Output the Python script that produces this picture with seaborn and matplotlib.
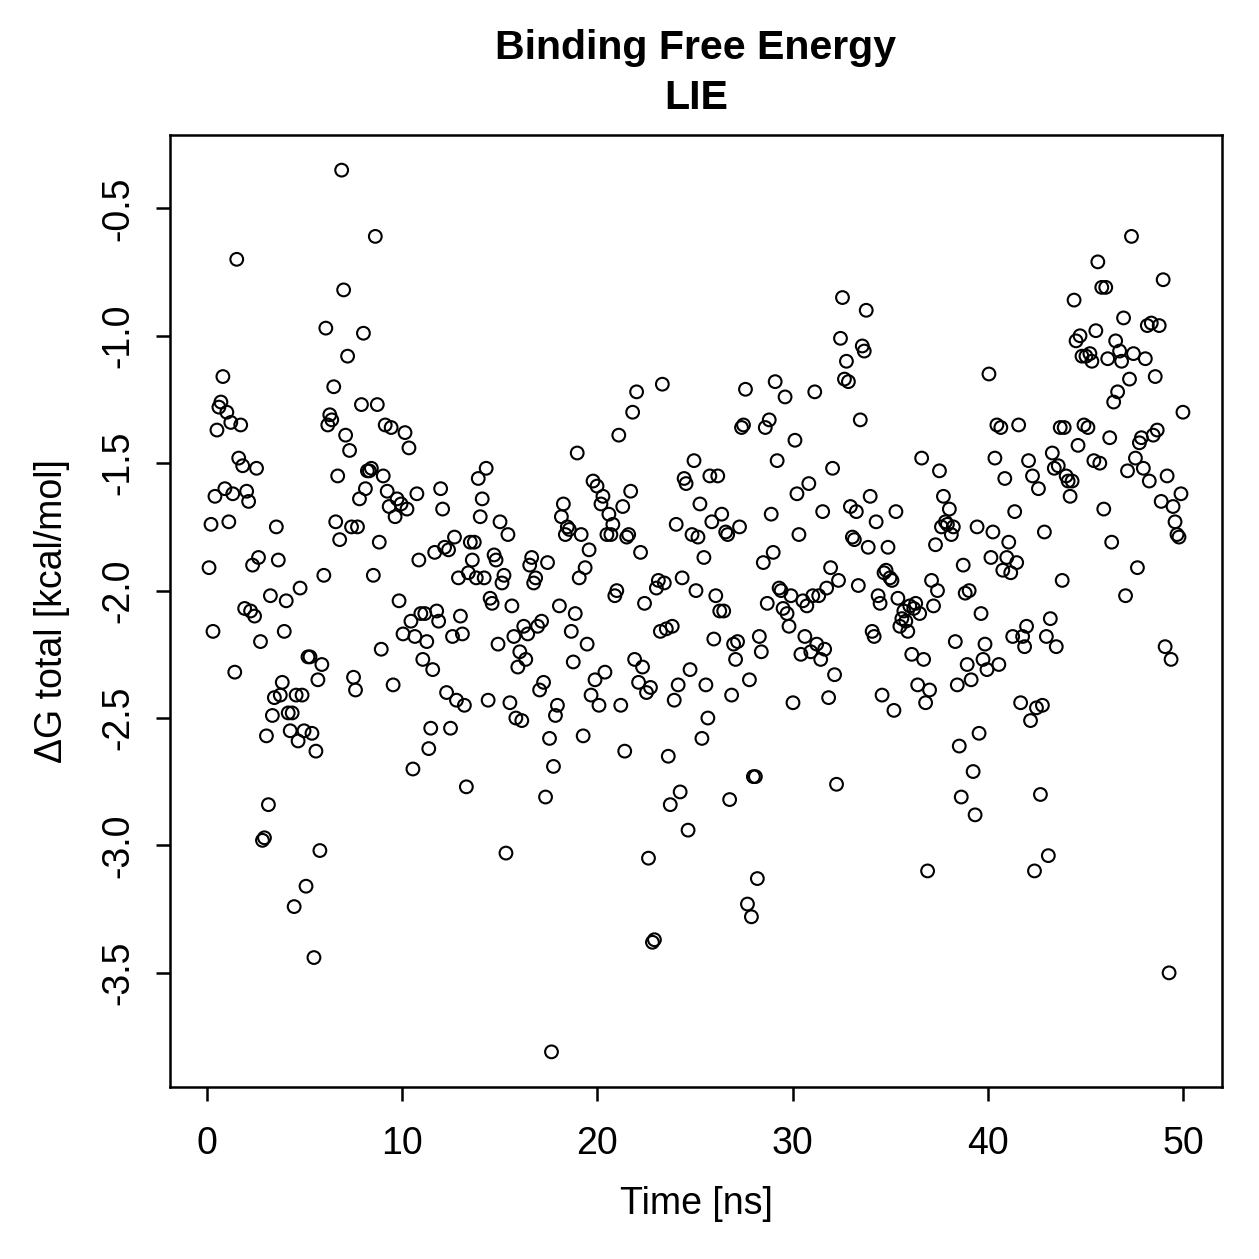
import matplotlib
matplotlib.use("Agg")
import matplotlib.pyplot as plt
import seaborn as sns
import numpy as np
import pandas as pd

# dG total per frame (frames every 0.1 ns)
dg_00_10 = [-1.91, -1.74, -2.16, -1.63, -1.37, -1.28, -1.26, -1.16, -1.60, -1.30,
            -1.73, -1.34, -1.62, -2.32, -0.70, -1.48, -1.35, -1.51, -2.07, -1.61,
            -1.65, -2.08, -1.90, -2.10, -1.52, -1.87, -2.20, -2.98, -2.97, -2.57,
            -2.84, -2.02, -2.49, -2.42, -1.75, -1.88, -2.41, -2.36, -2.16, -2.04,
            -2.48, -2.55, -2.48, -3.24, -2.41, -2.59, -1.99, -2.41, -2.55, -3.16,
            -2.26, -2.26, -2.56, -3.44, -2.63, -2.35, -3.02, -2.29, -1.94, -0.97,
            -1.35, -1.31, -1.33, -1.20, -1.73, -1.55, -1.80, -0.35, -0.82, -1.39,
            -1.08, -1.45, -1.75, -2.34, -2.39, -1.75, -1.64, -1.27, -0.99, -1.60,
            -1.53, -1.53, -1.52, -1.94, -0.61, -1.27, -1.81, -2.23, -1.55, -1.35,
            -1.61, -1.67, -1.36, -2.37, -1.71, -1.64, -2.04, -1.66, -2.17, -1.38]
dg_10_20 = [-1.68, -1.44, -2.12, -2.70, -2.18, -1.62, -1.88, -2.09, -2.27, -2.09,
            -2.20, -2.62, -2.54, -2.31, -1.85, -2.08, -2.12, -1.60, -1.68, -1.83,
            -2.40, -1.84, -2.54, -2.18, -1.79, -2.43, -1.95, -2.10, -2.17, -2.45,
            -2.77, -1.93, -1.81, -1.88, -1.81, -1.95, -1.56, -1.71, -1.64, -1.95,
            -1.52, -2.43, -2.03, -2.05, -1.86, -1.88, -2.21, -1.73, -1.97, -1.94,
            -3.03, -1.78, -2.44, -2.06, -2.18, -2.50, -2.30, -2.24, -2.51, -2.14,
            -2.27, -2.17, -1.90, -1.87, -1.97, -1.95, -2.14, -2.39, -2.12, -2.36,
            -2.81, -1.89, -2.58, -3.81, -2.69, -2.49, -2.45, -2.06, -1.71, -1.66,
            -1.78, -1.75, -1.76, -2.16, -2.28, -2.09, -1.46, -1.95, -1.78, -2.57,
            -1.91, -2.21, -1.84, -2.41, -1.57, -2.35, -1.59, -2.45, -1.66, -1.63]
dg_20_30 = [-2.32, -1.78, -1.70, -1.78, -1.74, -2.02, -2.00, -1.39, -2.45, -1.67,
            -2.63, -1.79, -1.78, -1.61, -1.30, -2.27, -1.22, -2.36, -1.85, -2.30,
            -2.05, -2.40, -3.05, -2.38, -3.38, -3.37, -1.99, -1.96, -2.16, -1.19,
            -1.97, -2.15, -2.65, -2.84, -2.14, -2.43, -1.74, -2.37, -2.79, -1.95,
            -1.56, -1.58, -2.94, -2.31, -1.78, -1.49, -2.00, -1.79, -1.66, -2.58,
            -1.87, -2.37, -2.50, -1.55, -1.73, -2.19, -2.02, -1.55, -2.08, -1.70,
            -2.08, -1.77, -1.78, -2.82, -2.41, -2.21, -2.27, -2.20, -1.75, -1.36,
            -1.35, -1.21, -3.23, -2.35, -3.28, -2.73, -2.73, -3.13, -2.18, -2.24,
            -1.89, -1.36, -2.05, -1.33, -1.70, -1.85, -1.18, -1.49, -1.99, -2.00,
            -2.07, -1.24, -2.09, -2.14, -2.02, -2.44, -1.41, -1.62, -1.78, -2.25]
dg_30_40 = [-2.04, -2.18, -2.06, -1.58, -2.24, -2.02, -1.22, -2.21, -2.02, -2.27,
            -1.69, -2.23, -1.99, -2.42, -1.91, -1.52, -2.33, -2.76, -1.96, -1.01,
            -0.85, -1.17, -1.10, -1.18, -1.67, -1.79, -1.80, -1.69, -1.98, -1.33,
            -1.04, -1.06, -0.90, -1.83, -1.63, -2.16, -2.18, -1.73, -2.02, -2.05,
            -2.41, -1.93, -1.92, -1.83, -1.95, -1.96, -2.47, -1.69, -2.03, -2.14,
            -2.11, -2.08, -2.12, -2.16, -2.06, -2.25, -2.07, -2.05, -2.37, -2.09,
            -1.48, -2.27, -2.44, -3.10, -2.39, -1.96, -2.06, -1.82, -2.00, -1.53,
            -1.75, -1.63, -1.73, -1.74, -1.68, -1.78, -1.75, -2.20, -2.37, -2.61,
            -2.81, -1.90, -2.01, -2.29, -2.00, -2.35, -2.71, -2.88, -1.75, -2.56,
            -2.09, -2.27, -2.21, -2.31, -1.15, -1.87, -1.77, -1.48, -1.35, -2.29]
dg_40_50 = [-1.36, -1.92, -1.56, -1.87, -1.81, -1.93, -2.18, -1.69, -1.89, -1.35,
            -2.44, -2.18, -2.22, -2.14, -1.49, -2.51, -1.55, -3.10, -2.46, -1.60,
            -2.80, -2.45, -1.77, -2.18, -3.04, -2.11, -1.46, -1.52, -2.22, -1.51,
            -1.36, -1.96, -1.36, -1.55, -1.57, -1.63, -1.57, -0.86, -1.02, -1.43,
            -1.00, -1.08, -1.35, -1.08, -1.36, -1.07, -1.10, -1.49, -0.98, -0.71,
            -1.50, -0.81, -1.68, -0.81, -1.09, -1.40, -1.81, -1.26, -1.02, -1.22,
            -1.06, -1.10, -0.93, -2.02, -1.53, -1.17, -0.61, -1.07, -1.48, -1.91,
            -1.42, -1.40, -1.52, -1.09, -0.96, -1.57, -0.95, -1.39, -1.16, -1.37,
            -0.96, -1.65, -0.78, -2.22, -1.55, -3.50, -2.27, -1.67, -1.73, -1.78,
            -1.79, -1.62, -1.30]

dg_total = dg_00_10 + dg_10_20 + dg_20_30 + dg_30_40 + dg_40_50
frame_step_ns = 0.1
time_ns = [round(frame_step_ns * (i + 1), 1) for i in range(len(dg_total))]
time_ns = list(np.array(time_ns) * 50.0 / time_ns[-1])  # last frame sits at 50 ns

df = pd.DataFrame({'time': time_ns, 'dg': dg_total})

sns.set_style('ticks')
plt.rcParams['font.family'] = ['Liberation Sans', 'DejaVu Sans']
plt.rcParams['text.color'] = 'black'
plt.rcParams['axes.labelcolor'] = 'black'

fig = plt.figure(figsize=(6.295, 6.295), dpi=200)
ax = fig.add_axes([0.135, 0.1366, 0.8356, 0.7562])

sns.scatterplot(data=df, x='time', y='dg', ax=ax, marker='o', s=21,
                facecolors='none', edgecolor='black', linewidth=0.75, legend=False)

ax.set_xlim(-1.9, 52.0)
ax.set_ylim(-3.948, -0.212)
ax.set_xticks([0, 10, 20, 30, 40, 50])
ax.set_yticks([-0.5, -1.0, -1.5, -2.0, -2.5, -3.0, -3.5])
ax.set_yticklabels(['-0.5', '-1.0', '-1.5', '-2.0', '-2.5', '-3.0', '-3.5'],
                   rotation=90, va='center')

for side in ['top', 'right', 'left', 'bottom']:
    ax.spines[side].set_visible(True)
    ax.spines[side].set_linewidth(0.9)
    ax.spines[side].set_color('black')
ax.tick_params(axis='both', direction='out', length=5, width=0.9,
               labelsize=13.5, colors='black')
ax.tick_params(axis='x', pad=9)
ax.tick_params(axis='y', pad=7)

ax.set_xlabel('Time [ns]', fontsize=13.5, labelpad=8.5, color='black')
ax.set_ylabel('ΔG total [kcal/mol]', fontsize=13.5, labelpad=11, color='black')
ax.set_title('Binding Free Energy\nLIE', fontsize=14.8, fontweight='bold', pad=9.5,
             linespacing=1.38, color='black')

fig.savefig('out.png', dpi=200, facecolor='white')
